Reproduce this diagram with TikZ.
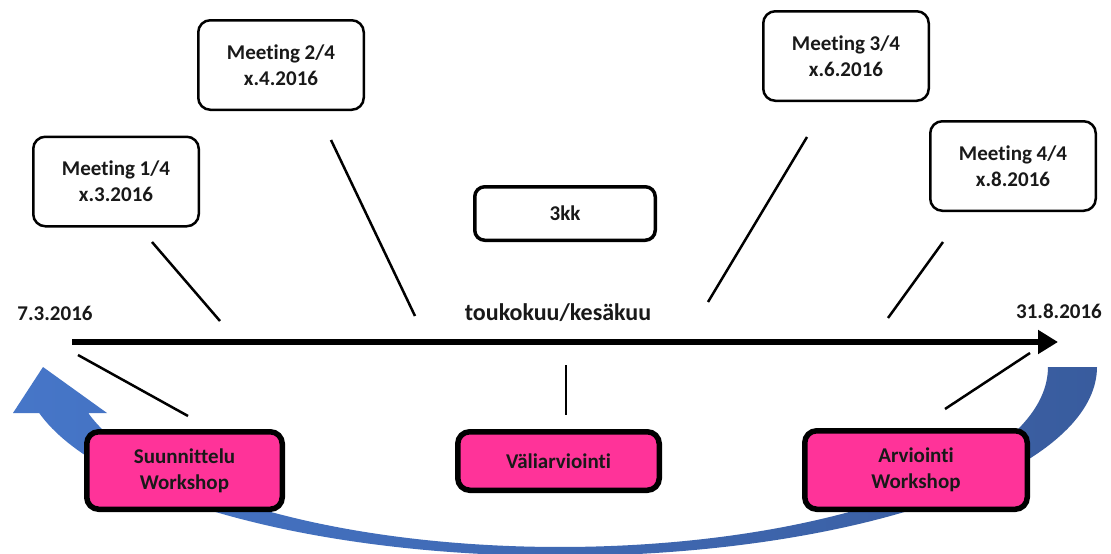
\documentclass[tikz,border=0pt]{standalone}
\usepackage{fontspec}
\setmainfont[Ligatures=NoCommon]{Carlito}
\usetikzlibrary{arrows.meta}
\definecolor{pinkfill}{RGB}{255,51,153}
\definecolor{bandleft}{RGB}{70,118,200}
\definecolor{bandright}{RGB}{57,92,158}
\begin{document}
\begin{tikzpicture}[x=1pt,y=-1pt,
  txt/.style={font=\fontsize{21}{26}\selectfont\bfseries, text=black!90},
  meeting/.style={txt, draw, line width=2.5pt, rounded corners=12pt, fill=white,
    minimum width=165.5pt, minimum height=89.5pt, align=center, inner sep=0pt},
  spanbox/.style={txt, draw, line width=3.5pt, rounded corners=10pt, fill=white,
    minimum width=180.5pt, minimum height=53.5pt, inner sep=0pt},
  phase/.style={txt, draw, line width=5.5pt, rounded corners=12pt, fill=pinkfill,
    align=center, inner sep=0pt},
  tick/.style={line width=2.5pt},
  datelabel/.style={txt, inner sep=0pt}]
\useasboundingbox (0,0) rectangle (1111,554);
\fill[white] (0,0) rectangle (1111,554);

% curved feedback arrow running under the timeline
\shade[left color=bandleft, right color=bandright]
  (1048,367) -- (1097,367)
  -- plot[domain=0:165.9, samples=140, variable=\t] ({560+537*cos(\t)},{367+189*sin(\t)})
  -- (13,413) -- (43,367) -- (107,413) -- (88,413)
  -- plot[domain=165.2:0, samples=140, variable=\t] ({560+488*cos(\t)},{367+180*sin(\t)})
  -- cycle;

% timeline
\coordinate (tstart) at (72,342);
\coordinate (tend) at (1058,342);
\draw[line width=5.5pt, -{Triangle[length=20pt,width=23pt]}] (tstart) -- (tend);

\node[datelabel] (dstart) at (55,313) {7.3.2016};
\node[datelabel] (dend) at (1059,311) {31.8.2016};
\node[datelabel, font=\fontsize{24}{28}\selectfont\bfseries] (mid) at (558,313) {toukokuu/kesäkuu};

% meetings above the timeline
\node[meeting] (m1) at (116,181.5) {Meeting 1/4\\x.3.2016};
\node[meeting] (m2) at (281,65) {Meeting 2/4\\x.4.2016};
\node[meeting] (m3) at (846,56) {Meeting 3/4\\x.6.2016};
\node[meeting] (m4) at (1013,166) {Meeting 4/4\\x.8.2016};
\node[spanbox] (kk) at (565,213.5) {3kk};

% workshops below the timeline
\node[phase, minimum width=195.5pt, minimum height=77.5pt] (w1) at (184.5,470.5) {Suunnittelu\\Workshop};
\node[phase, minimum width=201.5pt, minimum height=58.5pt] (w2) at (558.5,461) {Väliarviointi};
\node[phase, minimum width=222.5pt, minimum height=78.5pt] (w3) at (916,470) {Arviointi\\Workshop};

% pointer lines
\coordinate (a1) at (152,242); \coordinate (b1) at (220,321);
\coordinate (a2) at (331,140); \coordinate (b2) at (415,316);
\coordinate (a3) at (807,137); \coordinate (b3) at (708,302);
\coordinate (a4) at (943,242); \coordinate (b4) at (888,318);
\coordinate (c1) at (78,355);  \coordinate (e1) at (188,416);
\coordinate (c2) at (566,365); \coordinate (e2) at (566,415);
\coordinate (c3) at (1030,353); \coordinate (e3) at (945,409);
\draw[tick] (a1) -- (b1);
\draw[tick] (a2) -- (b2);
\draw[tick] (a3) -- (b3);
\draw[tick] (a4) -- (b4);
\draw[tick] (c1) -- (e1);
\draw[tick] (c2) -- (e2);
\draw[tick] (c3) -- (e3);
\end{tikzpicture}
\end{document}
